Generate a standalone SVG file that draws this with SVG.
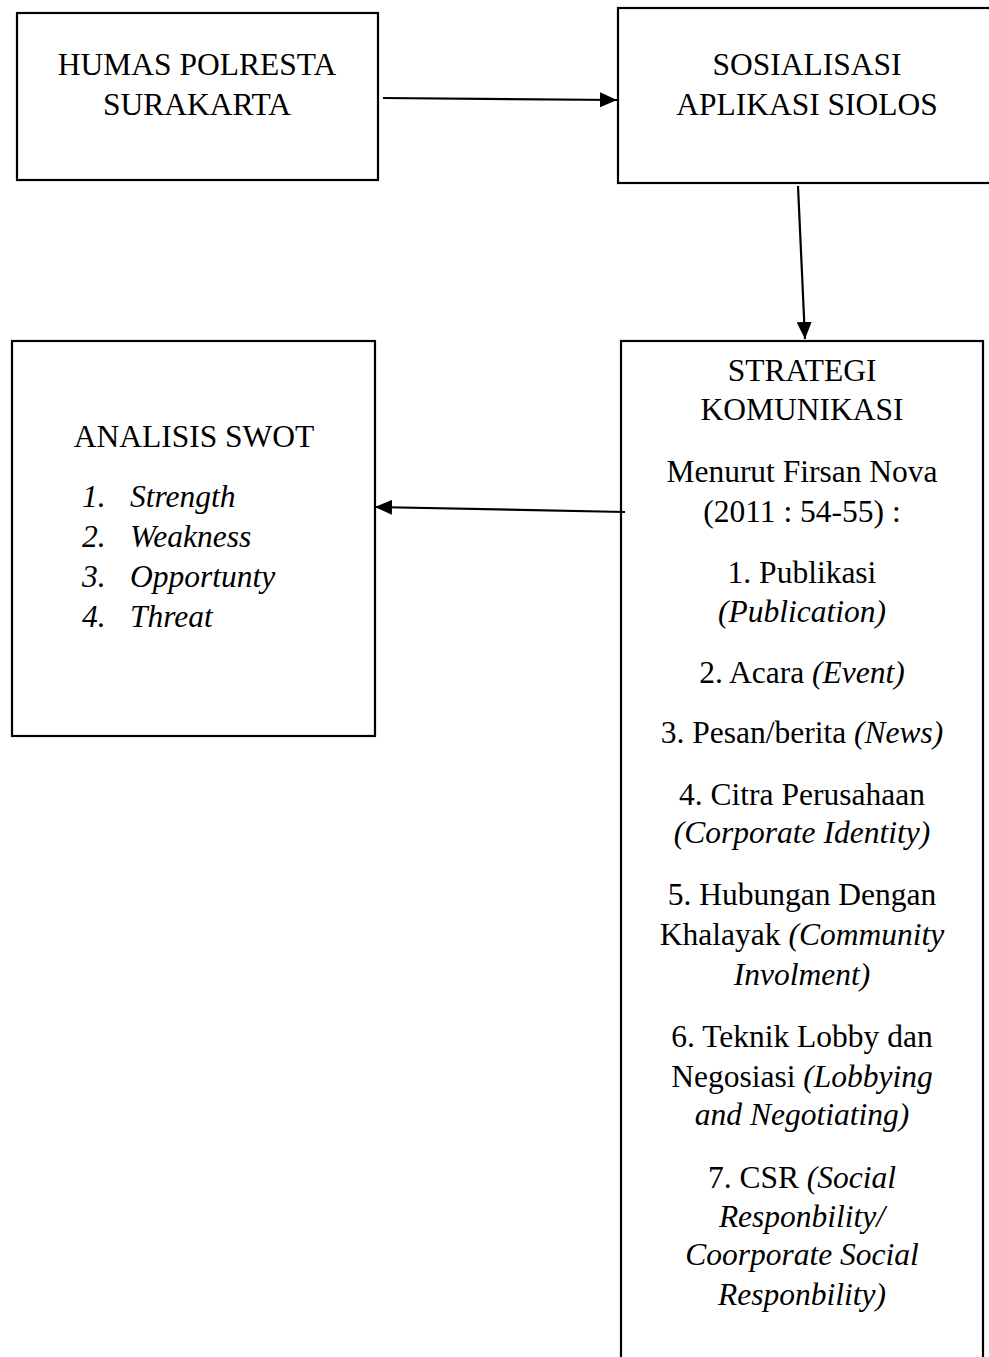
<svg xmlns="http://www.w3.org/2000/svg" width="989" height="1357" viewBox="0 0 989 1357">
<style>
.box{fill:#fff;stroke:#000;stroke-width:2.2}
.t{font-family:"Liberation Serif","Times New Roman",serif;font-size:31.5px;fill:#000}
.c{text-anchor:middle}
.i{font-style:italic}
.con{stroke:#000;stroke-width:2.2;fill:none}
</style>
<defs>
<marker id="ah" viewBox="0 0 17 15" refX="17" refY="7.5" markerWidth="17" markerHeight="15" markerUnits="userSpaceOnUse" orient="auto">
<path d="M0,0 L17,7.5 L0,15 Z" fill="#000"/>
</marker>
</defs>
<rect width="989" height="1357" fill="#fff"/>
<g id="humas">
<rect class="box" x="17" y="13" width="361" height="167"/>
<text class="t c" x="197" y="75">HUMAS POLRESTA</text>
<text class="t c" x="197" y="115">SURAKARTA</text>
</g>
<g id="sosialisasi">
<rect class="box" x="618" y="8" width="380" height="175"/>
<text class="t c" x="807" y="75">SOSIALISASI</text>
<text class="t c" x="807" y="115">APLIKASI SIOLOS</text>
</g>
<g id="swot">
<rect class="box" x="12" y="341" width="363" height="395"/>
<text class="t c" x="194" y="447">ANALISIS SWOT</text>
<text class="t i" x="82" y="507">1.</text><text class="t i" x="130" y="507">Strength</text>
<text class="t i" x="82" y="547">2.</text><text class="t i" x="130" y="547">Weakness</text>
<text class="t i" x="82" y="587">3.</text><text class="t i" x="130" y="587">Opportunty</text>
<text class="t i" x="82" y="627">4.</text><text class="t i" x="130" y="627">Threat</text>
</g>
<g id="strategi">
<rect class="box" x="621" y="341" width="362" height="1040"/>
<text class="t c" x="802" y="381">STRATEGI</text>
<text class="t c" x="802" y="420">KOMUNIKASI</text>
<text class="t c" x="802" y="482">Menurut Firsan Nova</text>
<text class="t c" x="802" y="522">(2011 : 54-55) :</text>
<text class="t c" x="802" y="583">1. Publikasi</text>
<text class="t c i" x="802" y="622">(Publication)</text>
<text class="t c" x="802" y="683">2. Acara <tspan class="i">(Event)</tspan></text>
<text class="t c" x="802" y="743">3. Pesan/berita <tspan class="i">(News)</tspan></text>
<text class="t c" x="802" y="805">4. Citra Perusahaan</text>
<text class="t c i" x="802" y="843">(Corporate Identity)</text>
<text class="t c" x="802" y="905">5. Hubungan Dengan</text>
<text class="t c" x="802" y="945">Khalayak <tspan class="i">(Community</tspan></text>
<text class="t c i" x="802" y="985">Involment)</text>
<text class="t c" x="802" y="1047">6. Teknik Lobby dan</text>
<text class="t c" x="802" y="1087">Negosiasi <tspan class="i">(Lobbying</tspan></text>
<text class="t c i" x="802" y="1125">and Negotiating)</text>
<text class="t c" x="802" y="1188">7. CSR <tspan class="i">(Social</tspan></text>
<text class="t c i" x="802" y="1227">Responbility/</text>
<text class="t c i" x="802" y="1265">Coorporate Social</text>
<text class="t c i" x="802" y="1305">Responbility)</text>
</g>
<g id="connectors">
<line class="con" x1="383" y1="98" x2="617" y2="100" marker-end="url(#ah)"/>
<line class="con" x1="798" y1="186" x2="805" y2="339" marker-end="url(#ah)"/>
<line class="con" x1="625" y1="512" x2="375" y2="507" marker-end="url(#ah)"/>
</g>
</svg>
